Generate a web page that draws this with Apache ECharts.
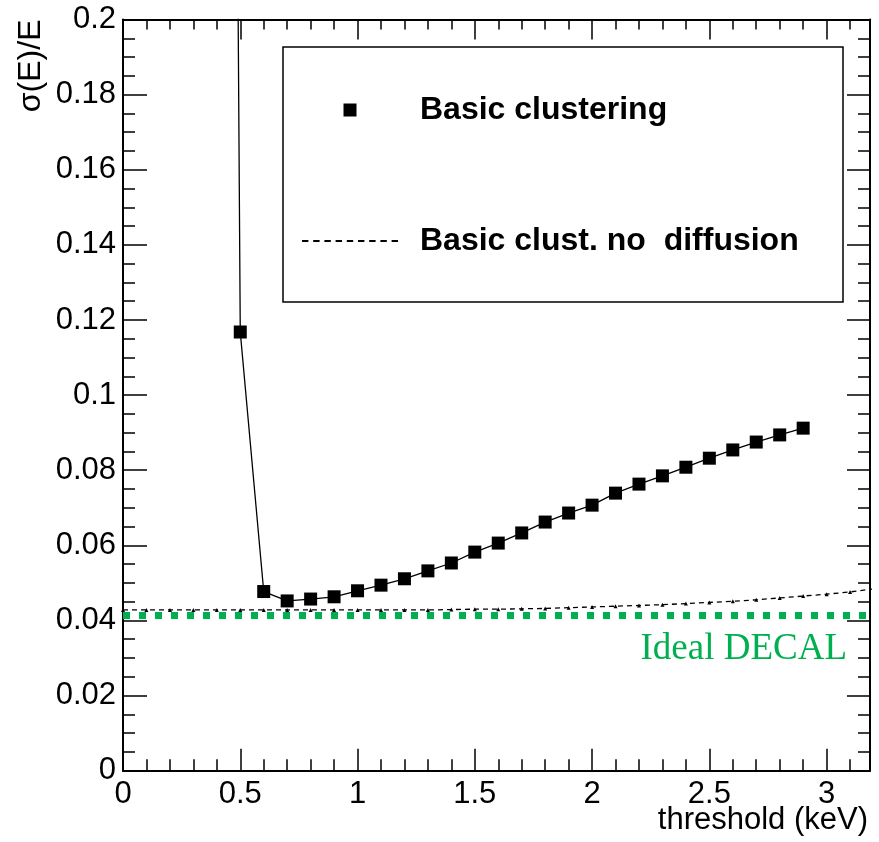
<!DOCTYPE html>
<html>
<head>
<meta charset="utf-8">
<script src="https://cdn.jsdelivr.net/npm/echarts@6/dist/echarts.min.js"></script>
<style>
html,body{margin:0;padding:0;background:#fff;}
#chart{width:879px;height:842px;}
</style>
</head>
<body>
<div id="chart"></div>
<script>
// ---- data ----
const basicX = [0.4, 0.5, 0.6, 0.7, 0.8, 0.9, 1.0, 1.1, 1.2, 1.3, 1.4, 1.5, 1.6, 1.7, 1.8, 1.9, 2.0, 2.1, 2.2, 2.3, 2.4, 2.5, 2.6, 2.7, 2.8, 2.9];
const basicY = [1.05, 0.1168, 0.0477, 0.0452, 0.0457, 0.0463, 0.0479, 0.0494, 0.0511, 0.0532, 0.0553, 0.0582, 0.0606, 0.0633, 0.0662, 0.0686, 0.0707, 0.0739, 0.0763, 0.0785, 0.0808, 0.0832, 0.0854, 0.0875, 0.0894, 0.0912];

const noDiffX = [0.0, 0.1, 0.2, 0.3, 0.4, 0.5, 0.6, 0.7, 0.8, 0.9, 1.0, 1.1, 1.2, 1.3, 1.4, 1.5, 1.6, 1.7, 1.8, 1.9, 2.0, 2.1, 2.2, 2.3, 2.4, 2.5, 2.6, 2.7, 2.8, 2.9, 3.0, 3.1, 3.2];
const noDiffY = [0.0428, 0.0428, 0.0428, 0.0428, 0.0428, 0.0428, 0.0428, 0.0428, 0.0428, 0.0428, 0.0428, 0.0428, 0.0428, 0.0428, 0.0429, 0.0430, 0.0430, 0.0431, 0.0432, 0.0434, 0.0436, 0.0438, 0.0440, 0.0442, 0.0445, 0.0448, 0.0451, 0.0455, 0.0460, 0.0465, 0.0470, 0.0476, 0.0484];

const idealDecal = 0.0415;

const xTickLabels = [0, 0.5, 1, 1.5, 2, 2.5, 3];
const yTickLabels = [0, 0.02, 0.04, 0.06, 0.08, 0.1, 0.12, 0.14, 0.16, 0.18, 0.2];

const seriesNames = ['Basic clustering', 'Basic clust. no  diffusion', 'Ideal DECAL'];
const xTitle = 'threshold (keV)';
const yTitle = 'σ(E)/E';

// ---- chart ----
const SANS = '"Liberation Sans", Arial, Helvetica, sans-serif';
const SERIF = '"Liberation Serif", "Times New Roman", serif';
const GREEN = '#00b050';
const X_MIN = 0, X_MAX = 3.185, Y_MIN = 0, Y_MAX = 0.2;

const zip = (xs, ys) => xs.map((x, i) => [x, ys[i]]);
const fmtX = v => { const m = xTickLabels.find(t => Math.abs(t - v) < 1e-6); return m === undefined ? '' : String(m); };
const fmtY = v => { const m = yTickLabels.find(t => Math.abs(t - v) < 1e-9); return m === undefined ? '' : String(m); };

// dashed legend icon (9 dashes)
let dashPath = 'path://';
for (let i = 0; i < 9; i++) { const x0 = (i * 11.2).toFixed(2); dashPath += 'M' + x0 + ',0h6.4v2h-6.4z'; }

const gridBox = {left: 123, right: 9, top: 19.5, bottom: 71.3, outerBoundsMode: 'none', containLabel: false};
const axisLineStyle = {color: '#000', width: 2};
const tickStyle = {color: '#000', width: 1.5};

const chart = echarts.init(document.getElementById('chart'), null, {renderer: 'canvas'});
chart.setOption({
  animation: false,
  backgroundColor: '#fff',
  grid: [Object.assign({}, gridBox), Object.assign({}, gridBox)],
  xAxis: [
    {
      gridIndex: 0, type: 'value', position: 'bottom', min: X_MIN, max: X_MAX, interval: 0.5,
      axisLine: {show: true, onZero: false, lineStyle: axisLineStyle},
      axisTick: {show: true, inside: true, length: 22, lineStyle: tickStyle},
      axisLabel: {show: true, margin: 8, fontSize: 31, color: '#000', fontFamily: SANS, showMaxLabel: false, formatter: fmtX},
      splitLine: {show: false}
    },
    {
      gridIndex: 0, type: 'value', position: 'top', min: X_MIN, max: X_MAX, interval: 0.5,
      axisLine: {show: true, onZero: false, lineStyle: axisLineStyle},
      axisTick: {show: true, inside: true, length: 20, lineStyle: tickStyle},
      axisLabel: {show: false}, splitLine: {show: false}
    },
    {
      gridIndex: 1, type: 'value', position: 'bottom', min: X_MIN, max: X_MAX, interval: 0.1,
      axisLine: {show: false, onZero: false},
      axisTick: {show: true, inside: true, length: 11.5, lineStyle: tickStyle},
      axisLabel: {show: false}, splitLine: {show: false}
    },
    {
      gridIndex: 1, type: 'value', position: 'top', min: X_MIN, max: X_MAX, interval: 0.1,
      axisLine: {show: false, onZero: false},
      axisTick: {show: true, inside: true, length: 10, lineStyle: tickStyle},
      axisLabel: {show: false}, splitLine: {show: false}
    }
  ],
  yAxis: [
    {
      gridIndex: 0, type: 'value', position: 'left', min: Y_MIN, max: Y_MAX, interval: 0.02,
      axisLine: {show: true, onZero: false, lineStyle: axisLineStyle},
      axisTick: {show: true, inside: true, length: 24, lineStyle: tickStyle},
      minorTick: {show: true, splitNumber: 4, length: 12, lineStyle: tickStyle},
      axisLabel: {show: true, margin: 7, fontSize: 31, color: '#000', fontFamily: SANS, formatter: fmtY},
      splitLine: {show: false}, minorSplitLine: {show: false},
      name: yTitle, nameLocation: 'end', nameGap: 0, nameRotate: 90,
      nameTextStyle: {fontSize: 32, color: '#000', fontFamily: SANS, align: 'right', verticalAlign: 'bottom', padding: [0, 0, 76, 0]}
    },
    {
      gridIndex: 0, type: 'value', position: 'right', min: Y_MIN, max: Y_MAX, interval: 0.02,
      axisLine: {show: true, onZero: false, lineStyle: axisLineStyle},
      axisTick: {show: true, inside: true, length: 23, lineStyle: tickStyle},
      minorTick: {show: true, splitNumber: 4, length: 12, lineStyle: tickStyle},
      axisLabel: {show: false}, splitLine: {show: false}, minorSplitLine: {show: false}
    },
    {gridIndex: 1, type: 'value', show: false, min: 0, max: 1}
  ],
  legend: [
    {
      data: [{name: seriesNames[0], icon: 'rect'}],
      left: 343.5, top: 94, padding: 0, itemWidth: 13, itemHeight: 13, selectedMode: false,
      textStyle: {fontSize: 32, fontWeight: 'bold', fontFamily: SANS, color: '#000', padding: [0, 0, 0, 58.5]}
    },
    {
      data: [{name: seriesNames[1], icon: dashPath}],
      left: 302, top: 225, padding: 0, itemWidth: 96, itemHeight: 2, selectedMode: false,
      textStyle: {fontSize: 32, fontWeight: 'bold', fontFamily: SANS, color: '#000', padding: [0, 0, 0, 17]}
    }
  ],
  graphic: [
    {type: 'rect', shape: {x: 283, y: 47, width: 560, height: 255}, style: {fill: 'none', stroke: '#000', lineWidth: 1.5}, z: 10, silent: true},
    {type: 'text', x: 868, y: 820, style: {text: xTitle, align: 'right', verticalAlign: 'middle', fontSize: 31, fontFamily: SANS, fill: '#000'}, z: 10, silent: true}
  ],
  series: [
    {
      name: seriesNames[2], type: 'line', xAxisIndex: 0, yAxisIndex: 0, data: [], z: 1, silent: true,
      markLine: {
        silent: true, symbol: 'none', animation: false, precision: 4,
        lineStyle: {color: GREEN, width: 7, type: [7, 9], cap: 'butt'},
        label: {show: true, position: 'insideEndBottom', formatter: seriesNames[2], color: GREEN, fontFamily: SERIF, fontSize: 37, distance: [23, 16]},
        emphasis: {disabled: true},
        data: [{yAxis: idealDecal}]
      }
    },
    {
      name: seriesNames[1], type: 'line', xAxisIndex: 0, yAxisIndex: 0, data: zip(noDiffX, noDiffY), z: 2,
      symbol: 'triangle', symbolSize: 4, showSymbol: true, clip: true,
      itemStyle: {color: '#000'}, lineStyle: {color: '#000', width: 1.3, type: [5, 4]},
      emphasis: {disabled: true}
    },
    {
      name: seriesNames[0], type: 'line', xAxisIndex: 0, yAxisIndex: 0, data: zip(basicX, basicY), z: 3,
      symbol: 'rect', symbolSize: 13, showSymbol: true, showAllSymbol: true, clip: true,
      itemStyle: {color: '#000', borderWidth: 0}, lineStyle: {color: '#000', width: 1.3},
      emphasis: {disabled: true}
    }
  ]
});
</script>
</body>
</html>
